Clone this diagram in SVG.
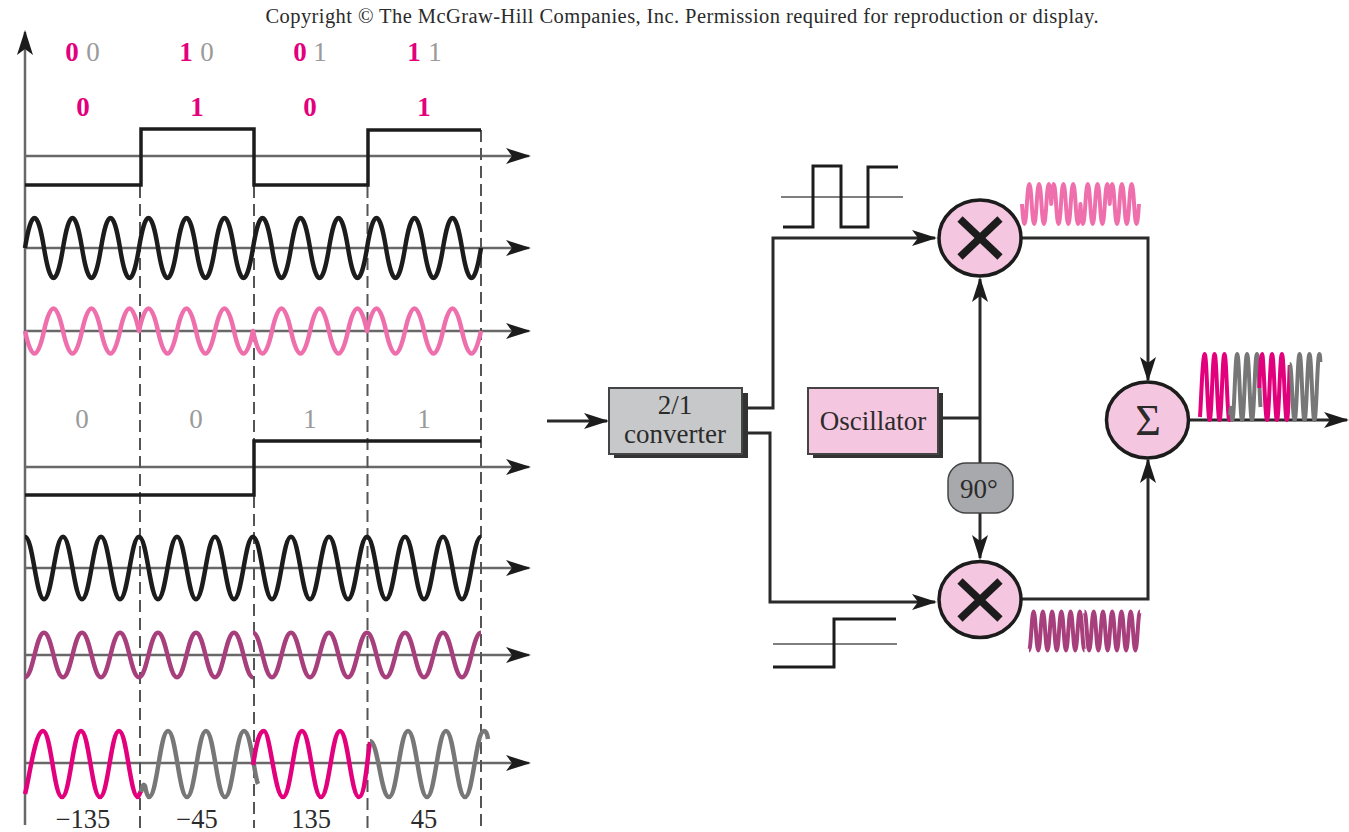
<svg xmlns="http://www.w3.org/2000/svg" width="1349" height="832" viewBox="0 0 1349 832">
<style>
text{font-family:"Liberation Serif","Times New Roman",serif;fill:#2b2b2b;text-anchor:middle}
.ax{fill:none;stroke:#686868;stroke-width:2.5}
.ar{marker-end:url(#ah)}
.da{fill:none;stroke:#555;stroke-width:2;stroke-dasharray:12 6}
.sq{fill:none;stroke:#1c1c1c;stroke-width:3.5;stroke-linejoin:miter}
.w{fill:none;stroke-linejoin:round;vector-effect:non-scaling-stroke}
.bk{stroke:#1c1c1c}.lp{stroke:#ee6fac}.dm{stroke:#a63f7c}.hp{stroke:#e2007c}.gy{stroke:#777}
.cn{fill:none;stroke:#2a2a2a;stroke-width:3}
.cir{fill:#f5c6df;stroke:#1c1c1c;stroke-width:3.5}
.x{stroke:#1c1c1c;stroke-width:7.500;fill:none}
.sh{fill:#333}
.thin{fill:none;stroke:#555;stroke-width:1.6}
.p{fill:#e2007c;font-weight:bold;font-size:27px}
.g{fill:#9a9a9a;font-size:27px}
.t{font-size:27px}
.b{font-size:26.500px}
</style>
<defs>
<marker id="ah" markerUnits="userSpaceOnUse" markerWidth="26" markerHeight="18" refX="23" refY="8" orient="auto"><path d="M25 8L0 0L6 8L0 16Z" fill="#1c1c1c"/></marker>
<path id="sine" class="w" d="M0 0c6.500-40 12.500-40 19 0s12.500 40 19 0s12.500-40 19 0s12.500 40 19 0s12.500-40 19 0s12.500 40 19 0s12.500-40 19 0s12.500 40 19 0s12.500-40 19 0s12.500 40 19 0s12.500-40 19 0s12.500 40 19 0s12.500-40 19 0s12.500 40 19 0s12.500-40 19 0s12.500 40 19 0s12.500-40 19 0s12.500 40 19 0s12.500-40 19 0s12.500 40 19 0s12.500-40 19 0s12.500 40 19 0s12.500-40 19 0s12.500 40 19 0"/>
<path id="qmix" class="w" d="M0 0c6.500 40 12.500 40 19 0s12.500-40 19 0s12.500 40 19 0s12.500-40 19 0s12.500 40 19 0s12.500-40 19 0c6.500-40 12.500-40 19 0s12.500 40 19 0s12.500-40 19 0s12.500 40 19 0s12.500-40 19 0s12.500 40 19 0c6.500 40 12.500 40 19 0s12.500-40 19 0s12.500 40 19 0s12.500-40 19 0s12.500 40 19 0s12.500-40 19 0c6.500-40 12.500-40 19 0s12.500 40 19 0s12.500-40 19 0s12.500 40 19 0s12.500-40 19 0s12.500 40 19 0"/>
<path id="cos" class="w" d="M0-30c8 0 11 60 19 60s11-60 19-60s11 60 19 60s11-60 19-60s11 60 19 60s11-60 19-60s11 60 19 60s11-60 19-60s11 60 19 60s11-60 19-60s11 60 19 60s11-60 19-60s11 60 19 60s11-60 19-60s11 60 19 60s11-60 19-60s11 60 19 60s11-60 19-60s11 60 19 60s11-60 19-60s11 60 19 60s11-60 19-60s11 60 19 60s11-60 19-60"/>
<path id="qcos" class="w" d="M0 30c8 0 11-60 19-60s11 60 19 60s11-60 19-60s11 60 19 60s11-60 19-60s11 60 19 60s11-60 19-60s11 60 19 60s11-60 19-60s11 60 19 60s11-60 19-60s11 60 19 60M228-30c8 0 11 60 19 60s11-60 19-60s11 60 19 60s11-60 19-60s11 60 19 60s11-60 19-60s11 60 19 60s11-60 19-60s11 60 19 60s11-60 19-60s11 60 19 60s11-60 19-60"/>
<path id="p1" class="w" d="M25 794C29 780 35 731 43 731s11 66 19 66s11-66 19-66s11 66 19 66s11-66 19-66s11 66 19 66l3-6"/>
<path id="g2" class="w" d="M141 792Q143 782 145 786Q147 797 149 797C157 797 160 731 168 731s11 66 19 66s11-66 19-66s11 66 19 66s11-66 19-66C251 731 254 775 258 784"/>
<path id="p3" class="w" d="M253 765C256 748 258 731 264 731s11 66 19 66s11-66 19-66s11 66 19 66s11-66 19-66s11 66 19 66C365 797 367 760 370 742"/>
<path id="g4" class="w" d="M370 741C378 741 381 797 389 797s11-66 19-66s11 66 19 66s11-66 19-66s11 66 19 66s11-66 19-66q3 0 4 8"/>
</defs>
<rect width="1349" height="832" fill="#fff"/>
<text x="682" y="23" style="font-size:20.500px" textLength="833" lengthAdjust="spacing">Copyright © The McGraw-Hill Companies, Inc. Permission required for reproduction or display.</text>

<g id="timing-axes">
<path class="ax" d="M25 825V32" marker-end="url(#ah)"/>
<path class="ax ar" d="M25 156H529"/>
<path class="ax ar" d="M25 248H529"/>
<path class="ax ar" d="M25 331H529"/>
<path class="ax ar" d="M25 467H529"/>
<path class="ax ar" d="M25 568H529"/>
<path class="ax ar" d="M25 655H529"/>
<path class="ax ar" d="M25 763H529"/>
<path class="da" d="M140 186V828"/>
<path class="da" d="M254 186V441M254 496V828"/>
<path class="da" d="M367.500 186V828"/>
<path class="da" d="M481 130V828"/>
</g>
<g id="timing-waves">
<path class="sq" d="M25 185H141V129H254V185H368V130H481"/>
<use href="#sine" class="bk" style="stroke-width:4.500" transform="translate(25 248) scale(1 1)"/>
<use href="#qmix" class="lp" style="stroke-width:4.500" transform="translate(25 331) scale(1 .75)"/>
<path class="sq" d="M25 495H254V441H481"/>
<use href="#cos" class="bk" style="stroke-width:4.500" transform="translate(25 568) scale(1 1.04)"/>
<use href="#qcos" class="dm" style="stroke-width:4.500" transform="translate(25 655) scale(1 .74)"/>
<use href="#p1" class="hp" style="stroke-width:4.500"/>
<use href="#g2" class="gy" style="stroke-width:4.500"/>
<use href="#p3" class="hp" style="stroke-width:4.500"/>
<use href="#g4" class="gy" style="stroke-width:4.500"/>
</g>
<g id="timing-labels">
<text class="p" x="72" y="61">0</text><text class="g" x="93" y="61">0</text>
<text class="p" x="186" y="61">1</text><text class="g" x="207" y="61">0</text>
<text class="p" x="300" y="61">0</text><text class="g" x="320" y="61">1</text>
<text class="p" x="414" y="61">1</text><text class="g" x="435" y="61">1</text>
<text class="p" x="83" y="116">0</text><text class="p" x="197" y="116">1</text><text class="p" x="310" y="116">0</text><text class="p" x="424" y="116">1</text>
<text class="g" x="82" y="428">0</text><text class="g" x="196" y="428">0</text><text class="g" x="310" y="428">1</text><text class="g" x="424" y="428">1</text>
<text class="b" x="83" y="828">−135</text><text class="b" x="197" y="828">−45</text><text class="b" x="311" y="828">135</text><text class="b" x="424" y="828">45</text>
</g>

<g id="connectors">
<path class="cn ar" d="M547 421H607"/>
<path class="cn ar" d="M748 408H773V238H935"/>
<path class="cn ar" d="M748 433H770V602H935"/>
<path class="cn" d="M943 418H980"/>
<path class="cn ar" d="M980 464V279"/>
<path class="cn ar" d="M980 513V558"/>
<path class="cn ar" d="M1021 238H1148V380"/>
<path class="cn ar" d="M1021 599H1148V460"/>
<path class="cn ar" d="M1189 420H1347"/>
</g>

<g id="converter">
<rect class="sh" x="614" y="393" width="134" height="65"/>
<rect x="609" y="388" width="133" height="66" fill="#c7c8ca" stroke="#444" stroke-width="2"/>
<text class="t" x="675" y="414">2/1</text><text class="t" x="675" y="443">converter</text>
</g>
<g id="oscillator">
<rect class="sh" x="813" y="393" width="130" height="65"/>
<rect x="808" y="388" width="130" height="66" fill="#f5c6df" stroke="#444" stroke-width="2"/>
<text class="t" x="873" y="430">Oscillator</text>
</g>
<g id="shifter">
<rect x="948" y="463" width="65" height="50" rx="18" fill="#a7a9ac" stroke="#444" stroke-width="1.500"/>
<text class="t" x="979" y="498">90°</text>
</g>
<g id="mixer-top">
<ellipse class="cir" cx="980" cy="238" rx="41" ry="38"/>
<path class="x" d="M960 219L1000 257M1000 219L960 257"/>
</g>
<g id="mixer-bottom">
<ellipse class="cir" cx="980" cy="599.500" rx="41" ry="38"/>
<path class="x" d="M960 581L1000 619M1000 581L960 619"/>
</g>
<g id="summer">
<ellipse class="cir" cx="1147.500" cy="420" rx="41" ry="38"/>
<text x="1148" y="435" style="font-size:44px">Σ</text>
</g>

<g id="signal-top">
<path class="thin" d="M781 197H903"/>
<path class="sq" style="stroke-width:3" d="M783 227H813V166H841V227H868V167H898"/>
<use href="#qmix" class="lp" style="stroke-width:4" transform="translate(1022 204) scale(.2565 .67)"/>
</g>
<g id="signal-bottom">
<path class="thin" d="M773 644H897"/>
<path class="sq" style="stroke-width:3" d="M773 667H834V619H896"/>
<use href="#qcos" class="dm" style="stroke-width:4" transform="translate(1029 631) scale(.2434 .65)"/>
</g>
<g id="signal-output" transform="translate(1193.500 -377) scale(.26 1)">
<use href="#p1" class="hp" style="stroke-width:4"/>
<use href="#g2" class="gy" style="stroke-width:4"/>
<use href="#p3" class="hp" style="stroke-width:4"/>
<use href="#g4" class="gy" style="stroke-width:4"/>
</g>
</svg>
